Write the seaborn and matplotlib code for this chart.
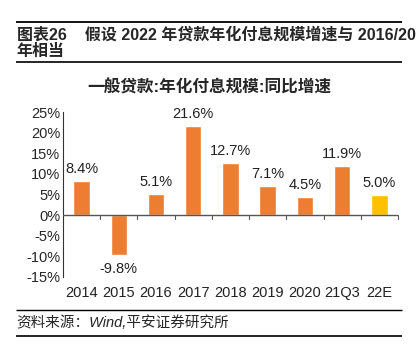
import matplotlib
matplotlib.use("Agg")
import matplotlib.pyplot as plt
import seaborn as sns
import pandas as pd
from matplotlib.ticker import FuncFormatter, FixedLocator

categories = ["2014", "2015", "2016", "2017", "2018", "2019", "2020", "21Q3", "22E"]
values = [8.4, -9.8, 5.1, 21.6, 12.7, 7.1, 4.5, 11.9, 5.0]
bar_colors = ["#ED7D31"] * 8 + ["#FFC000"]
yticks = [-15, -10, -5, 0, 5, 10, 15, 20, 25]

sns.set_style("white")
plt.rcParams['font.family'] = ['Liberation Sans', 'Noto Sans CJK SC']

fig = plt.figure(figsize=(4.18, 3.44), dpi=100)

# background axes for header / footer rules (pixel coordinates)
bg = fig.add_axes([0, 0, 1, 1])
bg.set_xlim(0, 418)
bg.set_ylim(344, 0)
bg.axis("off")
for yy, lw in [(21.5, 1.3), (62, 1.2), (310, 1.0), (336, 1.2)]:
    bg.plot([16, 402], [yy, yy], color="black", lw=lw, solid_capstyle="butt")

ax = fig.add_axes([0.1507, 0.195, 0.8013, 0.479])

df = pd.DataFrame({"cat": categories, "val": values})
sns.barplot(data=df, x="cat", y="val", hue="cat", palette=bar_colors, legend=False,
            width=0.44, ax=ax, saturation=1)

ax.set_ylim(-15, 25)
ax.set_xlim(-0.5, len(categories) - 0.5)
ax.yaxis.set_major_locator(FixedLocator(yticks))
ax.yaxis.set_major_formatter(FuncFormatter(lambda v, p: f"{int(v)}%"))
ax.set_xlabel("")
ax.set_ylabel("")
ax.patch.set_alpha(0)
for s in ["top", "right", "bottom"]:
    ax.spines[s].set_visible(False)
ax.spines["left"].set_color("#333333")
ax.spines["left"].set_linewidth(0.8)
ax.axhline(0, color="#555555", lw=1.0, zorder=3)
ax.tick_params(axis="y", direction="in", length=3, color="#333333", labelsize=10.5, pad=2)
# boundary ticks on the zero line
for b in [i + 0.5 for i in range(len(categories))]:
    ax.plot([b, b], [0, -0.9], color="#555555", lw=0.8, zorder=3, clip_on=False)

for i, v in enumerate(values):
    if v >= 0:
        ax.text(i, v + 1.2, f"{v:.1f}%", ha="center", va="bottom", fontsize=10.5, color="#222222")
    else:
        ax.text(i, v - 1.6, f"{v:.1f}%", ha="center", va="top", fontsize=10.5, color="#222222")

# x tick labels at bottom of axes
ax.set_xticks(range(len(categories)))
ax.set_xticklabels([])
ax.tick_params(axis="x", length=0)
for i, c in enumerate(categories):
    ax.text(i, -17.3, c, ha="center", va="top", fontsize=10.5, color="#222222")

# header
fig.text(0.04, 1 - 35/344, "图表26    假设 2022 年贷款年化付息规模增速与 2016/20", fontsize=11.5,
         fontweight="bold", va="center", ha="left")
fig.text(0.04, 1 - 51/344, "年相当", fontsize=11.5, fontweight="bold", va="center", ha="left")
fig.text(0.5, 1 - 87/344, "一般贷款:年化付息规模:同比增速", fontsize=12, fontweight="bold",
         va="center", ha="center")

# footer
fig.text(0.04, 1 - 323/344, "资料来源：Wind,平安证券研究所", fontsize=10.5, style="italic",
         va="center", ha="left")

fig.savefig("out.png", dpi=100)
